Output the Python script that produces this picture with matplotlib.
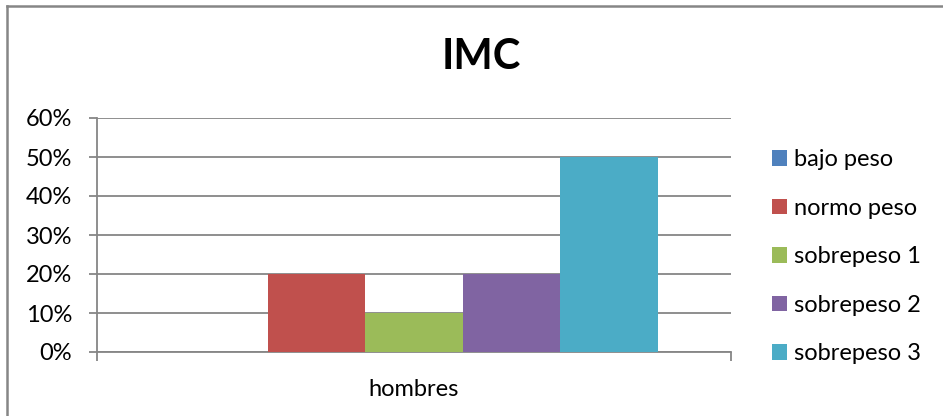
import matplotlib
matplotlib.use("Agg")
import matplotlib.pyplot as plt
from matplotlib.lines import Line2D
from matplotlib.ticker import PercentFormatter
import numpy as np

plt.rcParams['font.family'] = ['Lato', 'DejaVu Sans']

title = "IMC"
categories = ["hombres"]
series_names = ["bajo peso", "normo peso", "sobrepeso 1", "sobrepeso 2", "sobrepeso 3"]
series_values = [0.0, 0.20, 0.10, 0.20, 0.50]
series_colors = ["#4F81BD", "#C0504D", "#9BBB59", "#8064A2", "#4BACC6"]
y_ticks = [0.0, 0.1, 0.2, 0.3, 0.4, 0.5, 0.6]

W, H = 943, 416
fig = plt.figure(figsize=(W / 100, H / 100), dpi=100)
fig.patch.set_facecolor("white")

ax = fig.add_axes([97 / W, (H - 352) / H, (731 - 97) / W, (352 - 118) / H])

grid_col = "#868686"
label_size = 17
n = len(series_names)
gap = 1.5
bw = 1.0 / (n + gap)
x = np.arange(len(categories))
for i, (name, val, col) in enumerate(zip(series_names, series_values, series_colors)):
    ax.bar(x + (i - (n - 1) / 2) * bw, [val], width=bw, color=col, label=name, zorder=3)

ax.set_xlim(-0.5, 0.5)
ax.set_ylim(0, 0.6)
ax.set_yticks(y_ticks)
ax.yaxis.set_major_formatter(PercentFormatter(1.0, decimals=0))
ax.yaxis.grid(True, color=grid_col, linewidth=1.3, zorder=0)
ax.set_axisbelow(True)

ax.set_xticks(x)
ax.set_xticklabels(categories)
ax.set_xticks([-0.5, 0.5], minor=True)
ax.tick_params(axis="x", which="major", length=0, pad=19.5, labelsize=label_size, colors="#000000")
ax.tick_params(axis="x", which="minor", length=6.5, width=1.3, color=grid_col)
ax.tick_params(axis="y", length=6, width=1.3, color=grid_col, labelsize=label_size, pad=12,
               labelcolor="#000000")

for s in ("top", "right"):
    ax.spines[s].set_visible(False)
for s in ("left", "bottom"):
    ax.spines[s].set_color(grid_col)
    ax.spines[s].set_linewidth(1.3)

fig.text(481 / W, 1 - 57 / H, title, ha="center", va="center", fontsize=30, fontweight="bold")

leg = fig.legend(loc="upper left", bbox_to_anchor=(772 / W, 1 - 149 / H), frameon=False,
                 fontsize=label_size, handlelength=0.64, handleheight=0.64, handletextpad=0.3,
                 labelspacing=1.17, borderpad=0, borderaxespad=0)

# outer chart frame (continues past the right and bottom edges)
fig.add_artist(Line2D([7.5 / W, 7.5 / W], [0, 1 - 5.5 / H], transform=fig.transFigure,
                      color=grid_col, linewidth=1.8))
fig.add_artist(Line2D([7.5 / W, 1], [1 - 5.5 / H, 1 - 5.5 / H], transform=fig.transFigure,
                      color=grid_col, linewidth=1.8))

fig.savefig("out.png", dpi=100, facecolor="white")
